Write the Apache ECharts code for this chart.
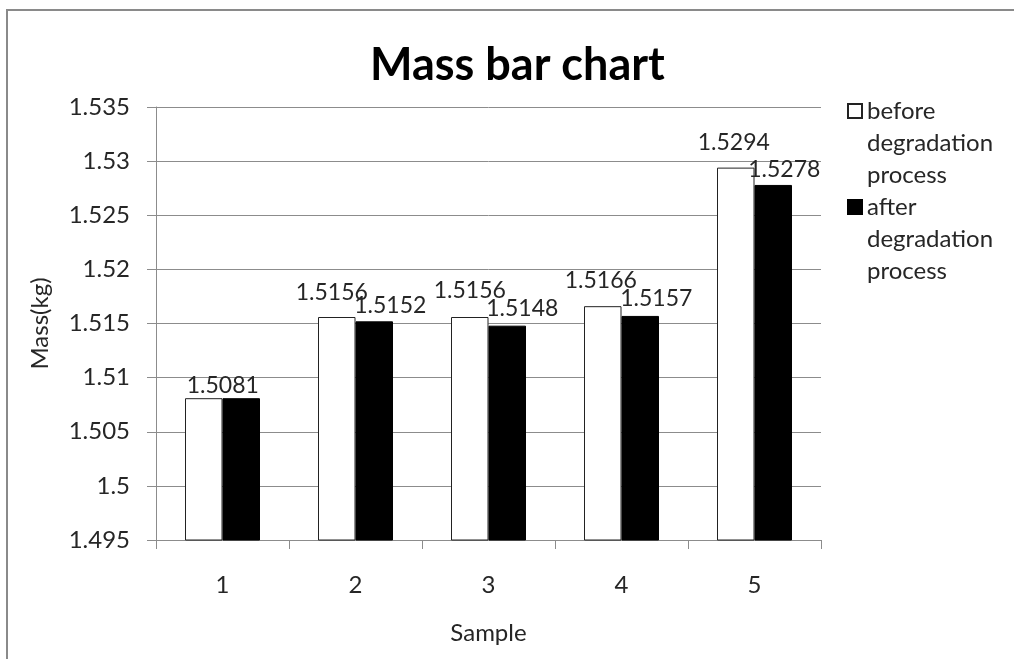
<!DOCTYPE html>
<html>
<head>
<meta charset="utf-8">
<title>Mass bar chart</title>
<script src="https://cdn.jsdelivr.net/npm/echarts@6/dist/echarts.min.js"></script>
<style>
  html, body { margin: 0; padding: 0; background: #fff; }
  #chart { width: 1014px; height: 659px; }
</style>
</head>
<body>
<div id="chart"></div>
<script>
// Samples and measured masses (kg)
const categories = ['1', '2', '3', '4', '5'];
const beforeMass = [1.5081, 1.5156, 1.5156, 1.5166, 1.5294];
const afterMass = [1.5081, 1.5152, 1.5148, 1.5157, 1.5278];
const seriesNames = ['before degradation process', 'after degradation process'];

// Value axis range
const yMin = 1.495;
const yMax = 1.535;
const yStep = 0.005;

// Label nudges [dx, distance above bar]; null hides the label
const beforeLabelShift = [[19, 1], [-5, 13], [0, 15], [-2, 14], [-2, 14]];
const afterLabelShift = [null, [16, 4], [15, 6], [16, 6], [11, 4]];

const FONT = 'Lato, "Open Sans", sans-serif';
const TEXT = '#262626';
const GRID_GRAY = '#8c8c8c';

function withLabels(values, shifts) {
  return values.map((v, i) => {
    const s = shifts[i];
    if (!s) return { value: v, label: { show: false } };
    return { value: v, label: { show: true, offset: [s[0], 0], distance: s[1] } };
  });
}

const chart = echarts.init(document.getElementById('chart'), null, { renderer: 'canvas' });

const labelStyle = {
  show: true,
  position: 'top',
  color: TEXT,
  fontFamily: FONT,
  fontSize: 23,
  formatter: p => p.value.toFixed(4)
};

chart.setOption({
  animation: false,
  backgroundColor: '#fff',
  graphic: [{
    type: 'rect',
    shape: { x: 7, y: 10, width: 1200, height: 800 },
    style: { fill: 'none', stroke: '#8a8a8a', lineWidth: 2 },
    silent: true,
    z: 100
  }],
  title: {
    text: 'Mass bar chart',
    left: 365,
    top: 38,
    textStyle: { fontFamily: FONT, fontSize: 45, fontWeight: 'bold', color: '#000' }
  },
  legend: {
    orient: 'vertical',
    left: 847,
    top: 31,
    padding: 0,
    itemGap: -64,
    itemWidth: 14,
    itemHeight: 14,
    icon: 'rect',
    selectedMode: false,
    // two leading blank lines keep the marker beside the first line
    formatter: n => '\n\n' + n.split(' ').join('\n'),
    textStyle: {
      fontFamily: FONT,
      fontSize: 24,
      lineHeight: 32,
      color: TEXT
    },
    data: seriesNames
  },
  grid: { left: 156, right: 193, top: 107, bottom: 119, containLabel: false },
  xAxis: {
    type: 'category',
    data: categories,
    name: 'Sample',
    nameLocation: 'middle',
    nameGap: 81,
    nameTextStyle: { fontFamily: FONT, fontSize: 24, color: TEXT },
    axisLine: { lineStyle: { color: GRID_GRAY, width: 1 } },
    axisTick: { show: true, length: 9, alignWithLabel: false, lineStyle: { color: GRID_GRAY } },
    axisLabel: { margin: 33, fontFamily: FONT, fontSize: 24, color: TEXT },
    splitLine: { show: false }
  },
  yAxis: {
    type: 'value',
    min: yMin,
    max: yMax,
    interval: yStep,
    name: 'Mass(kg)',
    nameLocation: 'middle',
    nameGap: 104,
    nameTextStyle: { fontFamily: FONT, fontSize: 24, color: TEXT },
    axisLine: { show: true, lineStyle: { color: GRID_GRAY, width: 1 } },
    axisTick: { show: true, length: 9, inside: false, lineStyle: { color: GRID_GRAY } },
    axisLabel: {
      margin: 26,
      fontFamily: FONT,
      fontSize: 24,
      color: TEXT,
      formatter: v => String(parseFloat(v.toFixed(3)))
    },
    splitLine: { show: true, lineStyle: { color: GRID_GRAY, width: 1 } }
  },
  series: [
    {
      name: seriesNames[0],
      type: 'bar',
      barWidth: 37.5,
      barGap: '0%',
      itemStyle: { color: '#ffffff', borderColor: '#222', borderWidth: 1 },
      label: labelStyle,
      data: withLabels(beforeMass, beforeLabelShift)
    },
    {
      name: seriesNames[1],
      type: 'bar',
      barWidth: 37.5,
      barGap: '0%',
      itemStyle: { color: '#000000', borderColor: '#000', borderWidth: 1 },
      label: labelStyle,
      data: withLabels(afterMass, afterLabelShift)
    }
  ]
});
</script>
</body>
</html>
